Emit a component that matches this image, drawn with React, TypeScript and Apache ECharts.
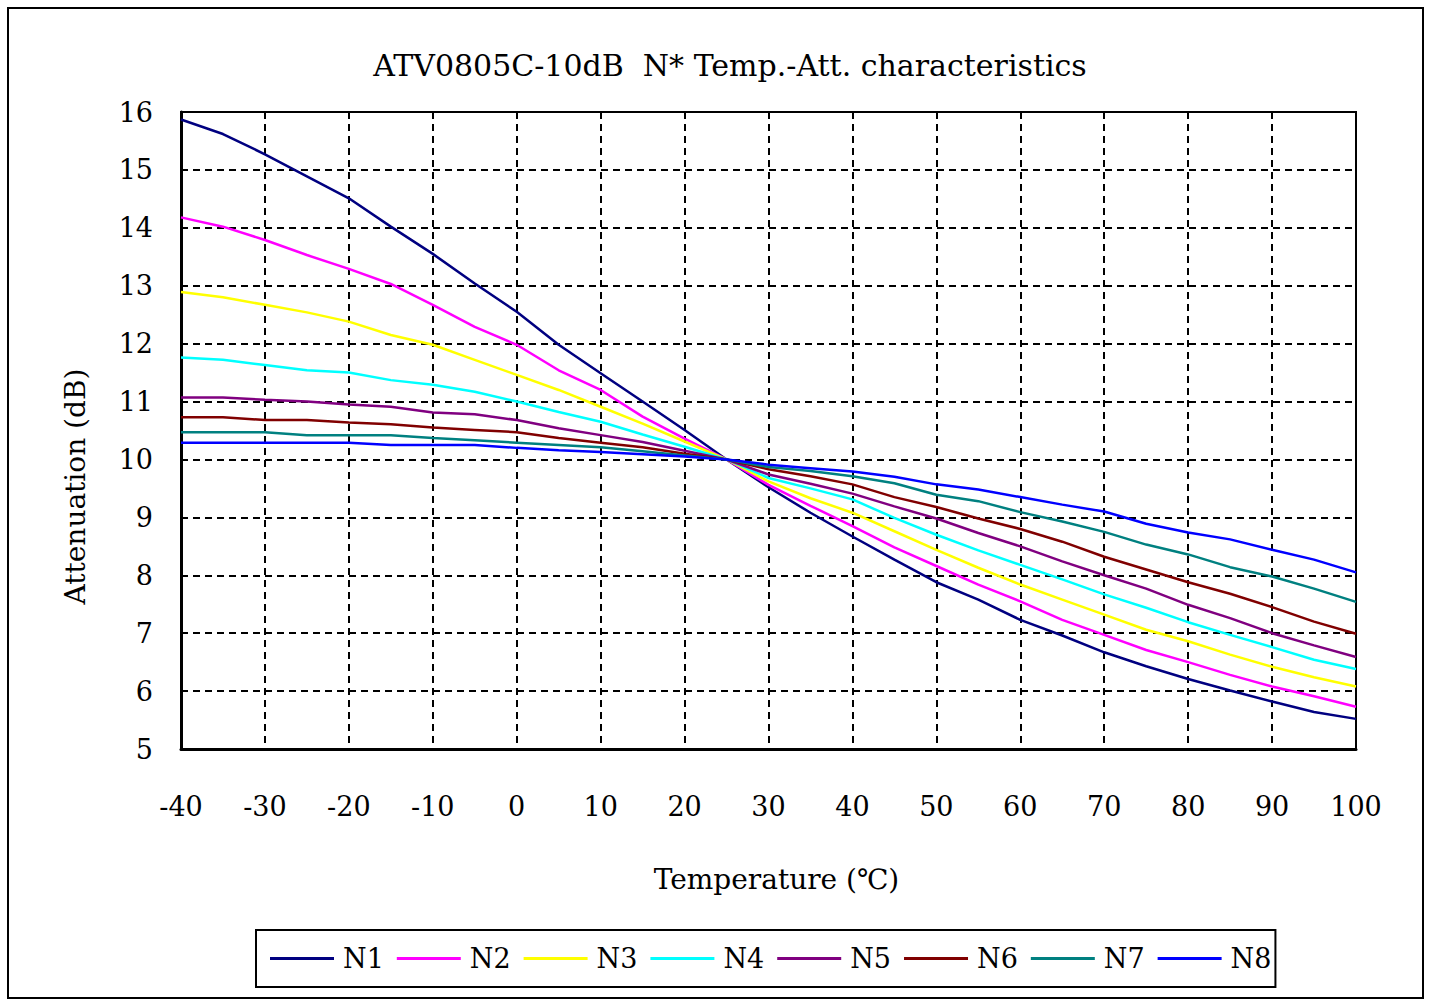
import React, { useEffect, useRef } from "react";
import * as echarts from "echarts";

const temps = [-40, -35, -30, -25, -20, -15, -10, -5, 0, 5, 10, 15, 20, 25, 30, 35, 40, 45, 50, 55, 60, 65, 70, 75, 80, 85, 90, 95, 100];

const n1 = [15.87, 15.62, 15.27, 14.89, 14.51, 14.02, 13.55, 13.04, 12.55, 11.98, 11.49, 11.0, 10.51, 10, 9.52, 9.08, 8.67, 8.27, 7.88, 7.58, 7.23, 6.96, 6.67, 6.43, 6.21, 6.01, 5.82, 5.64, 5.52];
const n2 = [14.18, 14.02, 13.79, 13.53, 13.29, 13.03, 12.67, 12.29, 11.98, 11.54, 11.2, 10.74, 10.36, 10, 9.56, 9.2, 8.85, 8.48, 8.16, 7.84, 7.55, 7.23, 6.97, 6.71, 6.5, 6.28, 6.08, 5.91, 5.73];
const n3 = [12.89, 12.8, 12.67, 12.54, 12.38, 12.15, 11.98, 11.72, 11.46, 11.2, 10.91, 10.62, 10.31, 10, 9.62, 9.33, 9.08, 8.76, 8.44, 8.13, 7.84, 7.58, 7.32, 7.06, 6.86, 6.63, 6.42, 6.24, 6.08];
const n4 = [11.76, 11.72, 11.63, 11.54, 11.5, 11.37, 11.29, 11.17, 11.0, 10.82, 10.65, 10.43, 10.22, 10, 9.68, 9.5, 9.31, 8.99, 8.7, 8.43, 8.18, 7.93, 7.67, 7.44, 7.19, 6.97, 6.76, 6.54, 6.38];
const n5 = [11.07, 11.07, 11.03, 11.0, 10.95, 10.91, 10.81, 10.78, 10.68, 10.54, 10.42, 10.3, 10.15, 10, 9.74, 9.58, 9.41, 9.19, 8.98, 8.73, 8.5, 8.24, 8.0, 7.77, 7.49, 7.26, 7.0, 6.79, 6.59];
const n6 = [10.73, 10.73, 10.68, 10.68, 10.64, 10.61, 10.55, 10.51, 10.47, 10.37, 10.29, 10.21, 10.1, 10, 9.83, 9.71, 9.57, 9.35, 9.18, 8.98, 8.8, 8.58, 8.32, 8.1, 7.88, 7.68, 7.45, 7.2, 6.99];
const n7 = [10.47, 10.47, 10.47, 10.42, 10.42, 10.42, 10.37, 10.33, 10.29, 10.25, 10.21, 10.14, 10.07, 10, 9.87, 9.8, 9.71, 9.59, 9.39, 9.28, 9.09, 8.93, 8.75, 8.53, 8.36, 8.14, 7.98, 7.77, 7.54];
const n8 = [10.29, 10.29, 10.29, 10.29, 10.29, 10.25, 10.25, 10.25, 10.2, 10.16, 10.13, 10.09, 10.05, 10, 9.91, 9.85, 9.79, 9.7, 9.57, 9.48, 9.35, 9.22, 9.1, 8.89, 8.74, 8.62, 8.44, 8.27, 8.05];

const seriesNames = ["N1", "N2", "N3", "N4", "N5", "N6", "N7", "N8"];
const seriesValues = [n1, n2, n3, n4, n5, n6, n7, n8];
const seriesColors = ["#000080", "#FF00FF", "#FFFF00", "#00FFFF", "#800080", "#800000", "#008080", "#0000FF"];

const titleText = "ATV0805C-10dB  N* Temp.-Att. characteristics";
const xName = "Temperature (℃)";
const yName = "Attenuation (dB)";

const FONT = "'DejaVu Serif', serif";

export default function App() {
  const ref = useRef<HTMLDivElement>(null);
  useEffect(() => {
    if (!ref.current) return;
    const chart = echarts.init(ref.current, undefined, { renderer: "svg" });
    chart.setOption({
      animation: false,
      backgroundColor: "#fff",
      title: {
        text: titleText,
        left: 730,
        top: 50,
        padding: 0,
        textAlign: "center",
        textStyle: { fontFamily: FONT, fontSize: 30, fontWeight: "normal", color: "#000" },
      },
      graphic: [
        {
          type: "rect",
          shape: { x: 8, y: 8, width: 1415, height: 990 },
          style: { fill: "none", stroke: "#000", lineWidth: 2 },
          silent: true,
        },
      ],
      legend: {
        left: 256,
        top: 930,
        orient: "horizontal",
        selectedMode: false,
        icon: "rect",
        itemWidth: 64,
        itemHeight: 3,
        itemGap: 13,
        borderColor: "#000",
        borderWidth: 2,
        padding: [15, 4, 15, 14],
        textStyle: { fontFamily: FONT, fontSize: 27, color: "#000", padding: [0, 0, 0, 4] },
        data: seriesNames,
      },
      grid: {
        left: 181,
        top: 112,
        right: 73,
        bottom: 253,
        show: true,
        borderColor: "#000",
        borderWidth: 2,
        containLabel: false,
      },
      xAxis: {
        type: "value",
        min: -40,
        max: 100,
        interval: 10,
        name: xName,
        nameLocation: "middle",
        nameGap: 116,
        nameTextStyle: { fontFamily: FONT, fontSize: 28, color: "#000", padding: [0, 0, 0, 16] },
        axisLine: { show: true, onZero: false, lineStyle: { color: "#000", width: 3 } },
        axisTick: { show: false },
        axisLabel: { margin: 44, fontFamily: FONT, fontSize: 27, color: "#000" },
        splitLine: { show: true, lineStyle: { color: "#000", type: [7, 5], width: 2 } },
      },
      yAxis: {
        type: "value",
        min: 5,
        max: 16,
        interval: 1,
        name: yName,
        nameLocation: "middle",
        nameGap: 92,
        nameTextStyle: { fontFamily: FONT, fontSize: 28, color: "#000", padding: [0, 112, 0, 0] },
        axisLine: { show: true, onZero: false, lineStyle: { color: "#000", width: 3 } },
        axisTick: { show: false },
        axisLabel: { margin: 28, fontFamily: FONT, fontSize: 27, color: "#000" },
        splitLine: { show: true, lineStyle: { color: "#000", type: [7, 5], width: 2 } },
      },
      series: seriesNames.map((name, i) => ({
        name,
        type: "line",
        symbol: "none",
        data: temps.map((t, j) => [t, seriesValues[i][j]]),
        lineStyle: { color: seriesColors[i], width: 2.5 },
        itemStyle: { color: seriesColors[i] },
      })),
    });
    return () => chart.dispose();
  }, []);
  return (
    <div
      ref={ref}
      style={{ position: "absolute", left: 0, top: 0, width: 1429, height: 1002, background: "#fff" }}
    />
  );
}
